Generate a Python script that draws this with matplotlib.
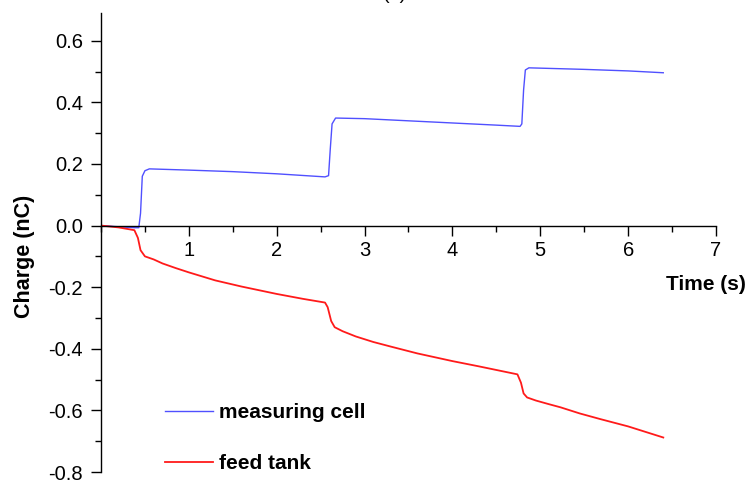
import matplotlib
matplotlib.use("Agg")
import matplotlib.pyplot as plt
from matplotlib.ticker import MultipleLocator

plt.rcParams['font.family'] = ['Liberation Sans', 'DejaVu Sans']

# measuring cell
t_cell = [0, 0.2, 0.38, 0.43, 0.45, 0.47, 0.5, 0.55, 1.0, 1.5, 2.0, 2.55, 2.59, 2.61, 2.63, 2.67,
          3.0, 3.5, 4.0, 4.5, 4.77, 4.79, 4.81, 4.83, 4.87, 5.5, 6.0, 6.4]
q_cell = [0, -0.004, -0.007, -0.007, 0.04, 0.16, 0.178, 0.184, 0.18, 0.175, 0.168, 0.158, 0.162,
          0.25, 0.33, 0.349, 0.347, 0.34, 0.333, 0.326, 0.322, 0.33, 0.44, 0.505, 0.512,
          0.507, 0.502, 0.496]

# feed tank
t_feed = [0, 0.2, 0.38, 0.42, 0.45, 0.5, 0.6, 0.7, 0.85, 1.0, 1.3, 1.6, 2.0, 2.3, 2.55, 2.58,
          2.62, 2.66, 2.75, 2.9, 3.1, 3.3, 3.6, 4.0, 4.3, 4.74, 4.78, 4.81, 4.85, 4.95, 5.1,
          5.23, 5.45, 5.68, 6.0, 6.4]
q_feed = [0, -0.006, -0.015, -0.04, -0.08, -0.1, -0.11, -0.123, -0.138, -0.152, -0.178, -0.198,
          -0.222, -0.238, -0.25, -0.265, -0.31, -0.33, -0.343, -0.36, -0.378, -0.393, -0.415,
          -0.44, -0.457, -0.483, -0.51, -0.545, -0.558, -0.568, -0.58, -0.59, -0.61, -0.628,
          -0.652, -0.688]

fig = plt.figure(figsize=(7.51, 4.82), dpi=100)
ax = fig.add_axes([101/751, 1 - 472/482, (716 - 101)/751, (472 - 13)/482])

ax.plot(t_cell, q_cell, color='#5050ff', lw=1.0, label='measuring cell')
ax.plot(t_feed, q_feed, color='#ff1a1a', lw=1.3, label='feed tank')

ax.set_xlim(0, 7)
ax.set_ylim(-0.8, 0.69)
ax.spines['top'].set_visible(False)
ax.spines['right'].set_visible(False)
ax.spines['bottom'].set_position(('data', 0))
ax.spines['left'].set_linewidth(1.0)
ax.spines['bottom'].set_linewidth(1.0)

ax.xaxis.set_minor_locator(MultipleLocator(0.5))
ax.yaxis.set_minor_locator(MultipleLocator(0.1))
x_ticks = [1, 2, 3, 4, 5, 6, 7]
y_ticks = [-0.8, -0.6, -0.4, -0.2, 0.0, 0.2, 0.4, 0.6]
y_tick_labels = ['-0.8', '-0.6', '-0.4', '-0.2', '0.0', '0.2', '0.4', '0.6']
ax.set_xticks(x_ticks)
ax.set_yticks(y_ticks)
ax.set_yticklabels(y_tick_labels)
ax.tick_params(which='major', direction='out', length=7, width=1.0, labelsize=14.5)
ax.tick_params(axis='y', which='major', pad=6)
ax.tick_params(axis='x', which='major', pad=4)
ax.tick_params(which='minor', direction='out', length=4, width=1.0)

ax.set_ylabel('Charge (nC)', fontsize=15.5, fontweight='bold')
ax.yaxis.set_label_coords(-0.107, 0.47)
fig.text(746/751, 1 - 284/482, 'Time (s)', fontsize=15, fontweight='bold',
         ha='right', va='center')
fig.text(395/751, 1.012, '(a)', fontsize=14, ha='center', va='center')

leg = ax.legend(loc='lower left', bbox_to_anchor=(0.073, -0.044), frameon=False,
                handlelength=2.3, labelspacing=1.55, handletextpad=0.33,
                prop={'weight': 'bold', 'size': 15})

fig.savefig('out.png', dpi=100)
